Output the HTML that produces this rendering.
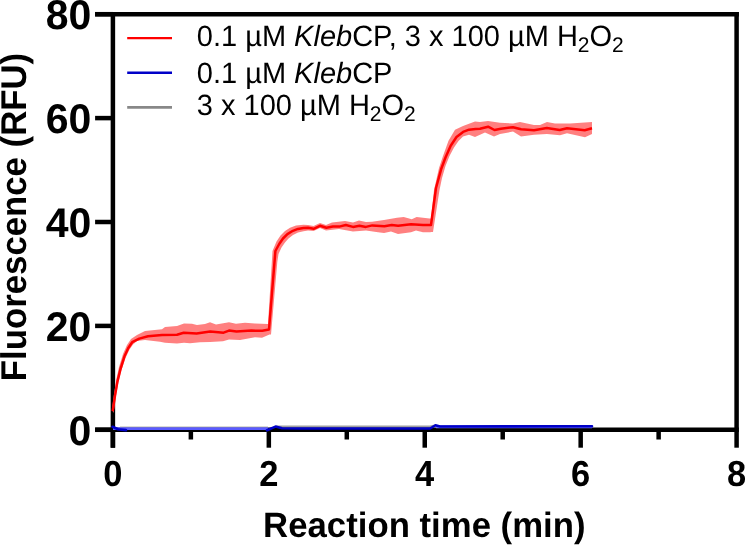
<!DOCTYPE html>
<html><head><meta charset="utf-8"><style>
html,body{margin:0;padding:0;background:#fff;}
body{width:745px;height:545px;overflow:hidden;position:relative;}
svg{position:absolute;left:0;top:0;will-change:transform;}
text{font-family:"Liberation Sans",sans-serif;text-rendering:geometricPrecision;}
.b{font-weight:bold;}
</style></head><body>
<svg width="745" height="545" viewBox="0 0 745 545">
<g stroke="#000" stroke-width="4.5" fill="none" stroke-linecap="butt">
<polyline points="95.1,14.2 738.85,14.2"/>
<line x1="736.6" y1="11.95" x2="736.6" y2="429.8"/>
<line x1="112.9" y1="11.95" x2="112.9" y2="447.7"/>
<line x1="95.1" y1="429.8" x2="738.85" y2="429.8"/>
<line x1="95.1" y1="429.8" x2="112.9" y2="429.8"/><line x1="95.1" y1="325.9" x2="112.9" y2="325.9"/><line x1="95.1" y1="222" x2="112.9" y2="222"/><line x1="95.1" y1="118.1" x2="112.9" y2="118.1"/><line x1="95.1" y1="14.2" x2="112.9" y2="14.2"/><line x1="112.9" y1="429.8" x2="112.9" y2="447.7"/><line x1="190.863" y1="429.8" x2="190.863" y2="439.5"/><line x1="268.825" y1="429.8" x2="268.825" y2="447.7"/><line x1="346.788" y1="429.8" x2="346.788" y2="439.5"/><line x1="424.75" y1="429.8" x2="424.75" y2="447.7"/><line x1="502.712" y1="429.8" x2="502.712" y2="439.5"/><line x1="580.675" y1="429.8" x2="580.675" y2="447.7"/><line x1="658.638" y1="429.8" x2="658.638" y2="439.5"/><line x1="736.6" y1="429.8" x2="736.6" y2="447.7"/>
</g>
<polygon points="112,409 114,394 116.2,380 119,367 123,354 127,345 131,339 137,335 145,331 162,329.3 165,327 177,326 184,323.4 192,323.7 197,325 205,324 210,322.2 216,324.5 229,322.2 236,323.8 245,322.7 255,323.5 268,324.1 272.5,251 276.5,241.5 280.5,235.5 285,231 290,227.8 296,225.5 303.5,224.8 308,225 313.6,226 320,223 326,225 332,222.5 345,221 353,222.5 359,220.5 366,222 372,221.7 384,220.1 397,217.7 403.7,216.9 411.8,219.3 416.6,216.9 429.5,218.5 431,218.6 434,190 439,168 443,156 448.5,140.7 455,129.7 463,126 475,121.6 480,121.9 488,121.1 500,122.7 513,123.5 520,121.9 534,125.1 540,125.1 547,121.9 555,123.5 570,123.5 592,121.9 592,134 585,137.2 567,133.2 560,135.3 547,134 534,134.8 521,136.4 513,131.6 500,134 494,136.4 485,132.6 475,137 469,134.8 463,136.5 458.5,141 454,147.5 449.5,156 445.5,166 442,178 439.5,190 433,232 431.5,232 430,232.2 423,232.2 416,230.6 411,232.2 398,234.1 391,231.4 384,233 378,232.2 366,230.6 353,231.4 339,229 326,230.6 320,228 313.6,231 308,230.5 303.5,231.2 298,232.5 293,235 288.5,238.5 285,242.5 281.5,247.5 278.5,254 277.3,262 271,334.5 269.5,334.5 262,337.8 255,337.2 240,339.9 229,339.4 223,341.3 210,342 200,342.2 190,343.3 184,342.8 177,343.5 165,342.8 160,341.7 145,340 137,341.1 133,344.5 129.5,349.5 125.5,358 121.5,370 118.5,382 116,396 113.5,413" fill="#ff8080"/>
<polyline points="120,427 268,427" fill="none" stroke="#b4b4a8" stroke-width="1"/>
<polyline points="276,426.3 430,426.3 436,425" fill="none" stroke="#a0a0a0" stroke-width="1.5"/>
<rect x="113" y="427.3" width="155" height="2.7" fill="#5a5aff"/>
<polygon points="436,425.3 592,425.3 592,428.3 436,428.3" fill="#7070ff"/>
<polyline points="112.5,426.8 118,429.3 126,430.1" fill="none" stroke="#0000c8" stroke-width="2.6" stroke-linejoin="round" stroke-linecap="round"/>
<polyline points="267,430.2 275.5,426.6 282,428.3 300,428.5 430,428.5 435.5,425.3 440,426.5 592,426.3" fill="none" stroke="#0000c8" stroke-width="2.6" stroke-linejoin="round" stroke-linecap="round"/>
<polyline points="112.7,411.3 115,395.6 117.4,381.6 120.5,369 124.4,356.6 128.3,348 132.2,342.2 139.3,338.6 148,336.3 162,335 177,334.7 183.7,332.8 196.6,333.6 210.2,331.6 223.6,332.7 229,330.6 236.5,331.6 251.5,330.6 262.3,330.8 269,329.5 275.4,251 279.2,244 283,238.5 287.4,234.1 292.9,230.8 297.9,228.9 303.5,228 308.1,227.8 313.6,228.8 320,225.8 326.4,227.7 332.9,226.6 339.3,226.6 345.8,225 353,226.9 359.5,225.8 365.9,226.9 372.3,225.4 384.4,226.2 391.7,225 398.1,225.8 411,224.2 423,225 431,225 436,188 441.1,169.3 445.5,157.5 450.7,145.8 456.5,137 463.1,131.9 469,129.7 475.6,128.9 480,128.8 488.1,126.7 494.5,130 500.9,128.8 513,127.2 521.1,129.2 534,130.3 546.8,127.9 559.7,130 567,128.3 584.7,130.3 592,128.3" fill="none" stroke="#ff0000" stroke-width="2.5" stroke-linejoin="round"/>
<g class="b" font-size="41" text-anchor="end" fill="#000"><g transform="translate(0,444.5) scale(1,1.01) translate(0,-444.5)"><text x="91.3" y="444.5">0</text></g><g transform="translate(0,340.6) scale(1,1.01) translate(0,-340.6)"><text x="91.3" y="340.6">20</text></g><g transform="translate(0,236.7) scale(1,1.01) translate(0,-236.7)"><text x="91.3" y="236.7">40</text></g><g transform="translate(0,132.8) scale(1,1.01) translate(0,-132.8)"><text x="91.3" y="132.8">60</text></g><g transform="translate(0,28.9) scale(1,1.01) translate(0,-28.9)"><text x="91.3" y="28.9">80</text></g></g>
<g class="b" font-size="34.5" text-anchor="middle" fill="#000"><g transform="translate(0,486.3) scale(1,1.05) translate(0,-486.3)"><text x="112.8" y="486.3">0</text></g><g transform="translate(0,486.3) scale(1,1.05) translate(0,-486.3)"><text x="268.725" y="486.3">2</text></g><g transform="translate(0,486.3) scale(1,1.05) translate(0,-486.3)"><text x="424.65" y="486.3">4</text></g><g transform="translate(0,486.3) scale(1,1.05) translate(0,-486.3)"><text x="580.575" y="486.3">6</text></g><g transform="translate(0,486.3) scale(1,1.05) translate(0,-486.3)"><text x="736.5" y="486.3">8</text></g></g>
<g transform="translate(0,537) scale(1,1.015) translate(0,-537)"><text class="b" font-size="34.75" x="424.35" y="537" text-anchor="middle">Reaction time (min)</text></g>
<g transform="translate(26,0) scale(1.03,1) translate(-26,0)"><text class="b" font-size="34.75" transform="translate(26,217) rotate(-90)" text-anchor="middle">Fluorescence (RFU)</text></g>
<g stroke-width="2.6">
<line x1="127.2" y1="38.1" x2="172" y2="38.1" stroke="#ff0000" stroke-width="2.4"/>
<line x1="127.2" y1="72.8" x2="172" y2="72.8" stroke="#0000c8"/>
<line x1="127.2" y1="107.4" x2="172" y2="107.4" stroke="#888888"/>
</g>
<g font-size="29" fill="#000"><g transform="translate(0,45.8) scale(1,1.01) translate(0,-45.8)"><text x="196.8" y="45.8">0.1 µM <tspan font-style="italic">Kleb</tspan>CP, 3 x 100 µM H<tspan font-size="21" dy="6">2</tspan><tspan dy="-6">O</tspan><tspan font-size="21" dy="6">2</tspan></text></g><g transform="translate(0,83) scale(1,1.01) translate(0,-83)"><text x="196.8" y="83">0.1 µM <tspan font-style="italic">Kleb</tspan>CP</text></g><g transform="translate(0,115.2) scale(1,1.01) translate(0,-115.2)"><text x="196.8" y="115.2">3 x 100 µM H<tspan font-size="21" dy="6">2</tspan><tspan dy="-6">O</tspan><tspan font-size="21" dy="6">2</tspan></text></g></g>
</svg>
</body></html>
